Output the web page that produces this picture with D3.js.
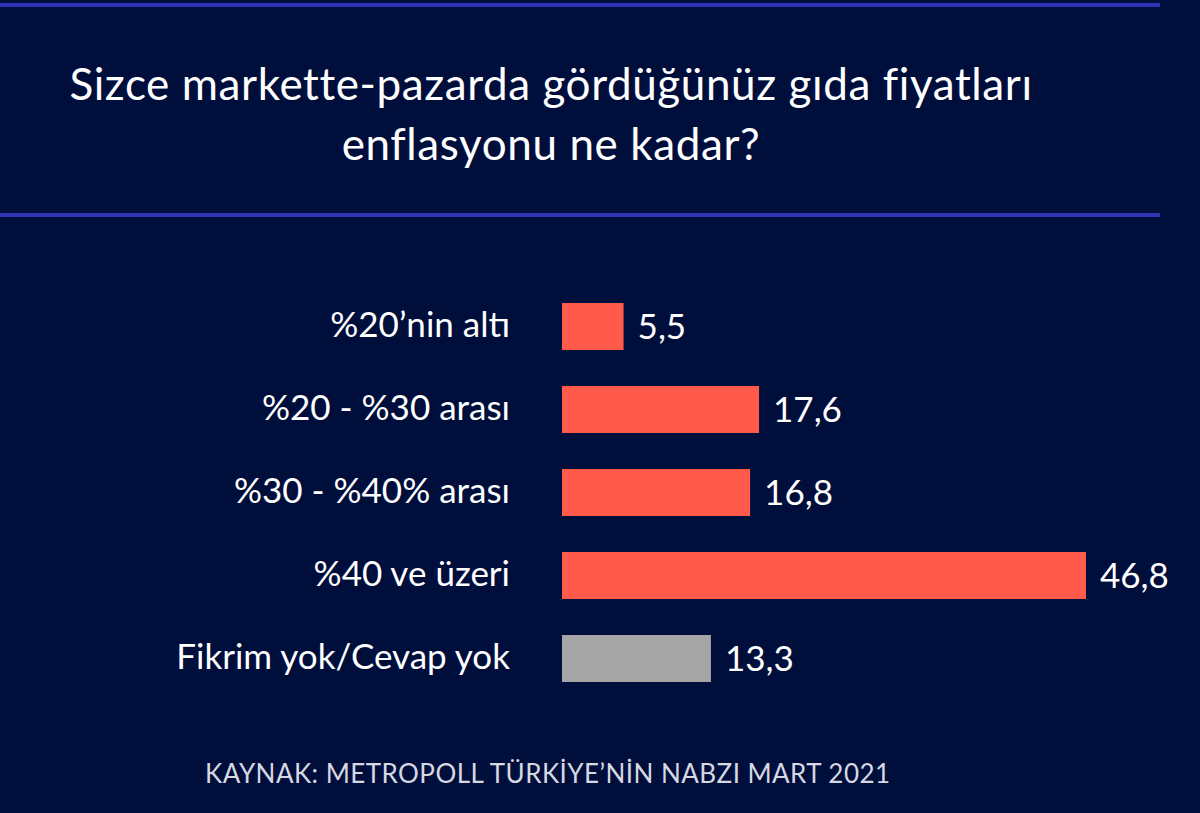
<!DOCTYPE html>
<html lang="tr">
  <head>
    <meta charset="UTF-8" />
    <title>Gıda fiyatları enflasyonu</title>
    <style>
      body { margin: 0; background: #000e3c; }
      svg { display: block; font-family: Lato, "Open Sans", sans-serif; }
    </style>
  </head>
  <body>
    <svg id="chart" width="1200" height="813"></svg>
    <script src="https://cdn.jsdelivr.net/npm/d3@7"></script>
    <script>
      // data
      const categories = ["%20’nin altı", "%20 - %30 arası", "%30 - %40% arası", "%40 ve üzeri", "Fikrim yok/Cevap yok"];
      const values = [5.5, 17.6, 16.8, 46.8, 13.3];
      const titleLines = ["Sizce markette-pazarda gördüğünüz gıda fiyatları", "enflasyonu ne kadar?"];
      const source = "KAYNAK: METROPOLL TÜRKİYE’NİN NABZI MART 2021";

      const data = categories.map((c, i) => ({ cat: c, val: values[i] }));

      const svg = d3.select("#chart");

      svg.append("rect").attr("width", 1200).attr("height", 813).attr("fill", "#000e3c");

      // rules above and below the title
      [5, 215].forEach((y) => {
        svg.append("rect").attr("x", 0).attr("y", y - 2).attr("width", 1160).attr("height", 4).attr("fill", "#3232b4");
      });

      svg.append("g").selectAll("text").data(titleLines).join("text")
        .attr("x", 551).attr("y", (d, i) => 100 + i * 60)
        .attr("text-anchor", "middle")
        .attr("fill", "#ffffff").attr("font-size", 44)
        .attr("letter-spacing", 0.6)
        .text((d) => d);

      const x = d3.scaleLinear().domain([0, 46.8]).range([562, 1086]);
      const y = d3.scaleBand().domain(categories).range([285, 700]).paddingInner(0.434).paddingOuter(0.217);

      const body = svg.append("g");

      body.selectAll("rect.bar").data(data).join("rect")
        .attr("class", "bar")
        .attr("x", x(0))
        .attr("y", (d) => y(d.cat))
        .attr("width", (d) => x(d.val) - x(0))
        .attr("height", y.bandwidth())
        .attr("fill", (d, i) => (i === categories.length - 1 ? "#a6a6a6" : "#ff5a4a"));

      body.selectAll("text.val").data(data).join("text")
        .attr("class", "val")
        .attr("x", (d) => x(d.val) + 14)
        .attr("y", (d) => y(d.cat) + y.bandwidth() / 2)
        .attr("dy", "0.36em")
        .attr("fill", "#ffffff").attr("font-size", 35)
        .text((d) => d3.format(".1f")(d.val).replace(".", ","));

      const axis = d3.axisLeft(y).tickSize(0).tickPadding(0);
      svg.append("g").attr("transform", "translate(510,0)").call(axis)
        .call((g) => g.select(".domain").remove())
        .selectAll("text")
        .attr("fill", "#ffffff").attr("font-size", 35)
        .attr("font-family", "Lato, 'Open Sans', sans-serif")
        .attr("dy", "0.3em");

      svg.append("text")
        .attr("x", 205).attr("y", 783)
        .attr("fill", "#d6d8e2").attr("font-size", 26)
        .attr("letter-spacing", 0.45)
        .text(source);
    </script>
  </body>
</html>
